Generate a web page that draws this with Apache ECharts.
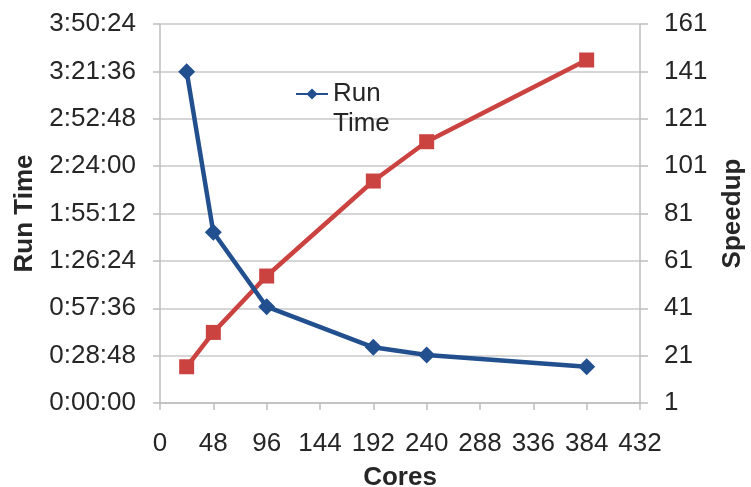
<!DOCTYPE html>
<html>
<head>
<meta charset="utf-8">
<script src="https://cdn.jsdelivr.net/npm/echarts@6/dist/echarts.min.js"></script>
<style>
  html, body { margin: 0; padding: 0; background: #fff; }
  #chart { width: 751px; height: 487px; }
</style>
</head>
<body>
<div id="chart"></div>
<script>
// Core counts used for each run
const cores = [24, 48, 96, 192, 240, 384];
// Wall-clock run time (H:MM:SS) for each core count
const runTime = ['3:21:24', '1:43:46', '0:58:33', '0:33:51', '0:29:11', '0:22:04'];
// Speedup relative to the serial run
const speedup = [16.3, 30.8, 54.6, 94.7, 111.3, 145.8];

function toSeconds(s) {
  const p = s.split(':').map(Number);
  return p[0] * 3600 + p[1] * 60 + p[2];
}
function toClock(sec) {
  const h = Math.floor(sec / 3600);
  const m = Math.floor((sec % 3600) / 60);
  const s = Math.round(sec % 60);
  return h + ':' + String(m).padStart(2, '0') + ':' + String(s).padStart(2, '0');
}

const FONT = 'Liberation Sans';
const TEXT = '#262626';
const GRID = '#c8c8c8';
const AXIS = '#bdbdbd';
const BLUE = '#22508f';
const RED = '#cb4340';

const chart = echarts.init(document.getElementById('chart'), null, { renderer: 'canvas' });

chart.setOption({
  animation: false,
  backgroundColor: '#ffffff',
  textStyle: { fontFamily: FONT },
  grid: { left: 160, right: 111, top: 24, bottom: 84, containLabel: false, outerBoundsMode: 'none' },
  legend: {
    data: ['Run Time'],
    left: 295,
    top: 49,
    padding: 0,
    itemWidth: 32,
    itemHeight: 14,
    // blank first line keeps "Run" level with the legend marker
    formatter: ' \nRun\nTime',
    textStyle: { fontFamily: FONT, fontSize: 26, color: TEXT, lineHeight: 30 }
  },
  xAxis: {
    type: 'value',
    min: 0, max: 432, interval: 48,
    name: 'Cores',
    nameLocation: 'middle',
    nameGap: 62,
    nameTextStyle: { fontFamily: FONT, fontSize: 26, fontWeight: 'bold', color: TEXT },
    axisLine: { show: true, lineStyle: { color: AXIS, width: 1.5 } },
    axisTick: { show: true, length: 7, lineStyle: { color: AXIS, width: 1.5 } },
    axisLabel: { fontFamily: FONT, fontSize: 26, color: TEXT, margin: 28 },
    splitLine: { show: false }
  },
  yAxis: [
    {
      type: 'value',
      position: 'left',
      min: 0, max: 13824, interval: 1728,
      name: 'Run Time',
      nameLocation: 'middle',
      nameGap: 122,
      nameTextStyle: { fontFamily: FONT, fontSize: 26, fontWeight: 'bold', color: TEXT },
      axisLine: { show: true, lineStyle: { color: AXIS, width: 1.5 } },
      axisTick: { show: true, length: 7, lineStyle: { color: AXIS, width: 1.5 } },
      axisLabel: { fontFamily: FONT, fontSize: 26, color: TEXT, margin: 24, formatter: v => toClock(v) },
      splitLine: { show: true, lineStyle: { color: GRID, width: 1.5 } }
    },
    {
      type: 'value',
      position: 'right',
      min: 1, max: 161, interval: 20,
      name: 'Speedup',
      nameLocation: 'middle',
      nameGap: 80,
      nameTextStyle: { fontFamily: FONT, fontSize: 26, fontWeight: 'bold', color: TEXT },
      axisLine: { show: true, lineStyle: { color: AXIS, width: 1.5 } },
      axisTick: { show: true, length: 8, lineStyle: { color: AXIS, width: 1.5 } },
      axisLabel: { fontFamily: FONT, fontSize: 26, color: TEXT, margin: 24 },
      splitLine: { show: false }
    }
  ],
  series: [
    {
      name: 'Run Time',
      type: 'line',
      yAxisIndex: 0,
      data: cores.map((c, i) => [c, toSeconds(runTime[i])]),
      symbol: 'diamond',
      symbolSize: 17,
      lineStyle: { color: BLUE, width: 4.5 },
      itemStyle: { color: BLUE },
      z: 3
    },
    {
      name: 'Speedup',
      type: 'line',
      yAxisIndex: 1,
      data: cores.map((c, i) => [c, speedup[i]]),
      symbol: 'rect',
      symbolSize: 15,
      lineStyle: { color: RED, width: 4.5 },
      itemStyle: { color: RED },
      z: 2
    }
  ]
});
</script>
</body>
</html>
